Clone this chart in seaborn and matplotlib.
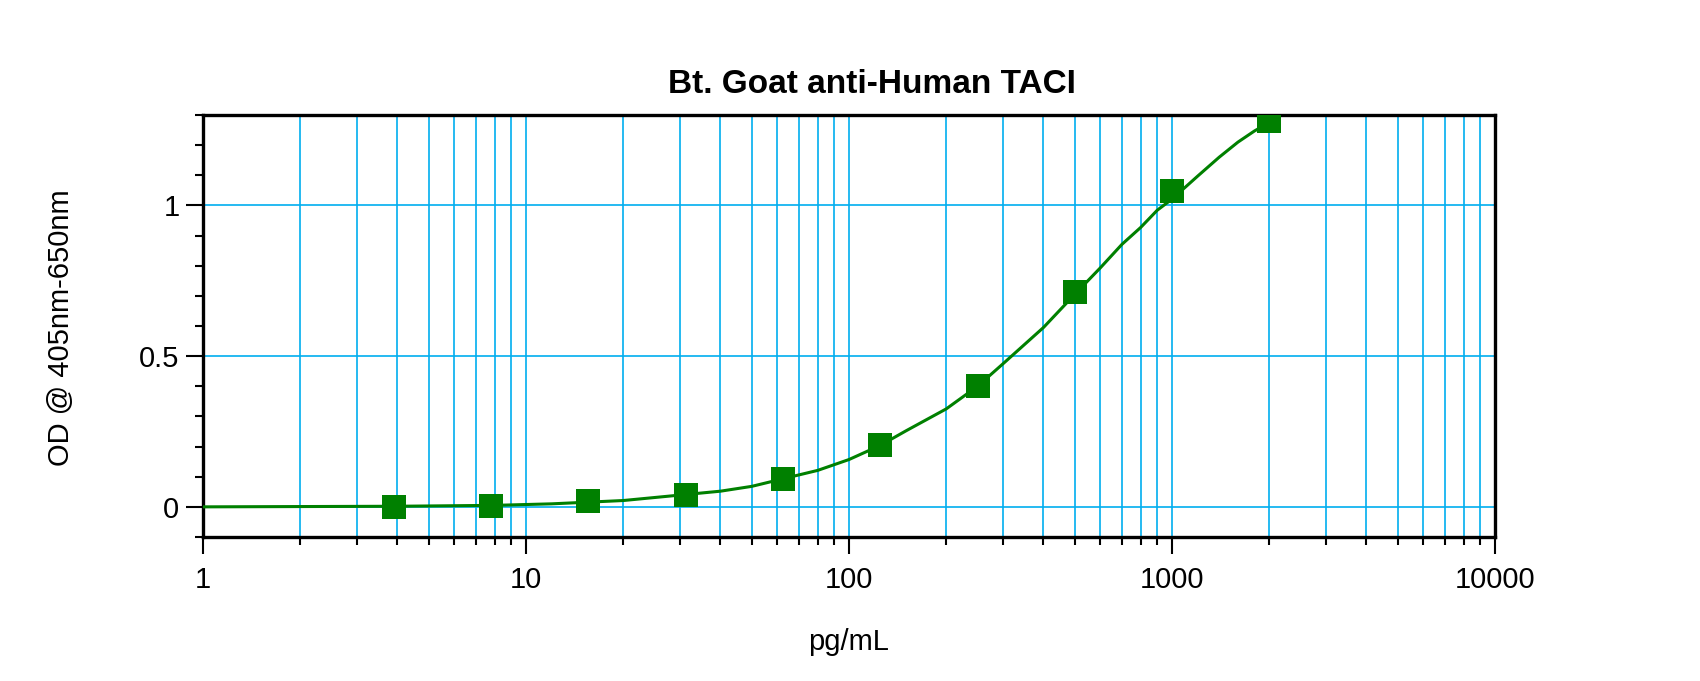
import matplotlib
matplotlib.use('Agg')
import matplotlib.pyplot as plt
import matplotlib.ticker as mticker
import pandas as pd
import seaborn as sns

# standards (pg/mL) and measured OD
conc = [3.9, 7.8, 15.6, 31.25, 62.5, 125, 250, 500, 1000, 2000]
od = [0.000, 0.002, 0.019, 0.038, 0.093, 0.204, 0.400, 0.713, 1.047, 1.280]

# fitted curve
curve_x = [1, 2, 4, 8, 12, 20, 40, 50, 70, 80, 100, 125, 150, 200, 250, 300, 400,
           500, 600, 700, 800, 900, 1000, 1200, 1400, 1600, 1800, 2000]
curve_y = [0.000, 0.001, 0.002, 0.005, 0.010, 0.021, 0.052, 0.068, 0.106, 0.121,
           0.157, 0.204, 0.252, 0.325, 0.400, 0.475, 0.595, 0.705, 0.793, 0.871,
           0.927, 0.984, 1.021, 1.097, 1.160, 1.210, 1.247, 1.275]

title = 'Bt. Goat anti-Human TACI'
x_label = 'pg/mL'
y_label = 'OD @ 405nm-650nm'

sns.set_style('white')
plt.rcParams['font.family'] = ['Liberation Sans', 'DejaVu Sans']
plt.rcParams['text.color'] = 'black'
plt.rcParams['axes.labelcolor'] = 'black'

green = '#008000'
grid_blue = '#00AEEF'

fig = plt.figure(figsize=(17, 6.81), dpi=100)
ax = fig.add_axes([203 / 1700, 1 - 537 / 681, 1292 / 1700, 422 / 681])

pts = pd.DataFrame({'conc': conc, 'od': od})
fit = pd.DataFrame({'conc': curve_x, 'od': curve_y})

sns.lineplot(data=fit, x='conc', y='od', ax=ax, color=green, linewidth=2.2,
             estimator=None, sort=True, zorder=3)
sns.scatterplot(data=pts, x='conc', y='od', ax=ax, color=green, marker='s',
                s=280, linewidth=0, zorder=4)

ax.set_xscale('log')
ax.set_xlim(1, 10000)
ax.set_ylim(-0.1, 1.3)

ax.xaxis.set_major_locator(mticker.LogLocator(base=10))
ax.xaxis.set_minor_locator(mticker.LogLocator(base=10, subs=range(2, 10)))
ax.xaxis.set_major_formatter(mticker.FuncFormatter(lambda v, p: f'{v:g}'))
ax.xaxis.set_minor_formatter(mticker.NullFormatter())
ax.yaxis.set_major_locator(mticker.MultipleLocator(0.5))
ax.yaxis.set_minor_locator(mticker.MultipleLocator(0.1))
ax.yaxis.set_major_formatter(mticker.FuncFormatter(lambda v, p: f'{v + 0:g}'))

ax.grid(which='both', axis='x', color=grid_blue, linewidth=1.2)
ax.grid(which='major', axis='y', color=grid_blue, linewidth=1.2)
ax.set_axisbelow(True)

ax.tick_params(which='major', length=12, width=1.5, direction='out',
               labelsize=21, colors='black', bottom=True, left=True,
               top=False, right=False)
ax.tick_params(which='minor', length=5.5, width=1.5, direction='out',
               colors='black', bottom=True, left=True, top=False, right=False)
ax.tick_params(axis='x', which='major', pad=9)
ax.tick_params(axis='y', which='major', pad=5)

for sp in ax.spines.values():
    sp.set_visible(True)
    sp.set_color('black')
    sp.set_linewidth(2.4)

ax.set_title(title, fontsize=24, fontweight='bold', pad=16, x=0.5175, color='black')
ax.set_xlabel(x_label, fontsize=21, color='black')
ax.set_ylabel(y_label, fontsize=21, color='black')
ax.xaxis.set_label_coords(0.5, -0.215)
ax.yaxis.set_label_coords(-0.099, 0.495)

fig.savefig('out.png', dpi=100)
